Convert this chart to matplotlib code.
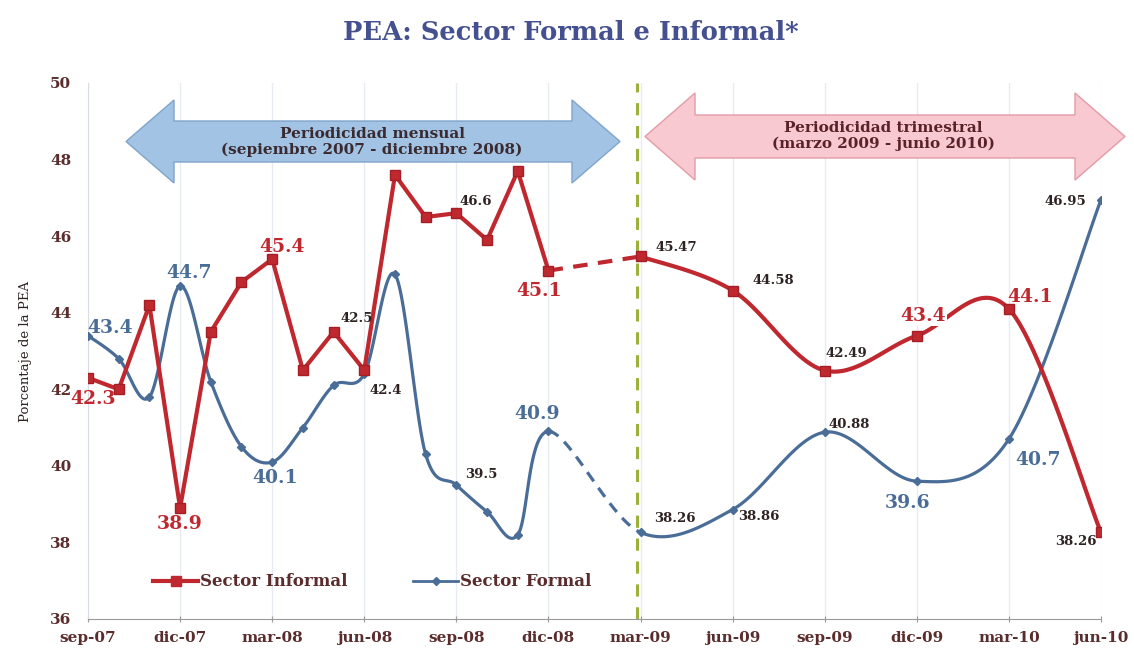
import numpy as np
import matplotlib
matplotlib.use("Agg")
import matplotlib.pyplot as plt
from matplotlib.patches import Polygon
from matplotlib.lines import Line2D

# ---------------- data ----------------
monthly_labels = ['sep-07', 'oct-07', 'nov-07', 'dic-07', 'ene-08', 'feb-08', 'mar-08', 'abr-08',
                  'may-08', 'jun-08', 'jul-08', 'ago-08', 'sep-08', 'oct-08', 'nov-08', 'dic-08']
quarterly_labels = ['mar-09', 'jun-09', 'sep-09', 'dic-09', 'mar-10', 'jun-10']

informal_monthly = [42.3, 42.0, 44.2, 38.9, 43.5, 44.8, 45.4, 42.5,
                    43.5, 42.5, 47.6, 46.5, 46.6, 45.9, 47.7, 45.1]
formal_monthly = [43.4, 42.8, 41.8, 44.7, 42.2, 40.5, 40.1, 41.0,
                  42.1, 42.4, 45.0, 40.3, 39.5, 38.8, 38.2, 40.9]
informal_quarterly = [45.47, 44.58, 42.49, 43.4, 44.1, 38.26]
formal_quarterly = [38.26, 38.86, 40.88, 39.6, 40.7, 46.95]

tick_labels = ['sep-07', 'dic-07', 'mar-08', 'jun-08', 'sep-08', 'dic-08',
               'mar-09', 'jun-09', 'sep-09', 'dic-09', 'mar-10', 'jun-10']

# labelled points: (period label) -> style kind
informal_labelled = {'sep-07': 'c', 'dic-07': 'c', 'mar-08': 'c', 'jun-08': 'd', 'sep-08': 'd',
                     'dic-08': 'c', 'mar-09': 'd', 'jun-09': 'd', 'sep-09': 'd', 'dic-09': 'c',
                     'mar-10': 'c', 'jun-10': 'd'}
formal_labelled = {'sep-07': 'c', 'dic-07': 'c', 'mar-08': 'c', 'jun-08': 'd', 'sep-08': 'd',
                   'dic-08': 'c', 'mar-09': 'd', 'jun-09': 'd', 'sep-09': 'd', 'dic-09': 'c',
                   'mar-10': 'c', 'jun-10': 'd'}

# ---------------- styling ----------------
informal_offsets = {'sep-07': (5, -21), 'dic-07': (0, -16), 'mar-08': (10, 12), 'jun-08': (-8, 52),
                    'sep-08': (19, 12), 'dic-08': (-9, -20), 'mar-09': (36, 9), 'jun-09': (41, 10),
                    'sep-09': (22, 17), 'dic-09': (6, 20), 'mar-10': (21, 12), 'jun-10': (-25, -9)}
formal_offsets = {'sep-07': (22, 8), 'dic-07': (9, 13), 'mar-08': (3, -16), 'jun-08': (21, -17),
                  'sep-08': (25, 10), 'dic-08': (-11, 17), 'mar-09': (34, 14), 'jun-09': (26, -7),
                  'sep-09': (24, 8), 'dic-09': (-9, -22), 'mar-10': (29, -21), 'jun-10': (-36, -2)}

RED = '#c0282f'
BLUE = '#4a6d98'
DARK = '#2e2222'
TICKC = '#5a2c2c'
FONT = 'DejaVu Serif'

MONTHS = {'ene': 1, 'feb': 2, 'mar': 3, 'abr': 4, 'may': 5, 'jun': 6,
          'jul': 7, 'ago': 8, 'sep': 9, 'oct': 10, 'nov': 11, 'dic': 12}


def month_index(lbl):
    m, y = lbl.split('-')
    return (2000 + int(y) - 2007) * 12 + MONTHS[m] - 9


def bezier_segments(xs, ys, n=30):
    pts = np.column_stack([xs, ys]).astype(float)
    segs = []
    t = np.linspace(0, 1, n)[:, None]
    for i in range(len(pts) - 1):
        p0 = pts[i - 1] if i > 0 else pts[i]
        p1, p2 = pts[i], pts[i + 1]
        p3 = pts[i + 2] if i + 2 < len(pts) else pts[i + 1]
        c1 = p1 + (p2 - p0) / 6.0
        c2 = p2 - (p3 - p1) / 6.0
        seg = (1 - t) ** 3 * p1 + 3 * (1 - t) ** 2 * t * c1 + 3 * (1 - t) * t ** 2 * c2 + t ** 3 * p2
        segs.append(seg)
    return segs


W, H = 1134, 653
fig = plt.figure(figsize=(W / 100, H / 100), dpi=100)
fig.patch.set_facecolor('white')
L, R, T, B = 88, 1101, 83, 619
ax = fig.add_axes([L / W, 1 - B / H, (R - L) / W, (B - T) / H])

xm = [month_index(s) for s in monthly_labels]
xq = [month_index(s) for s in quarterly_labels]

# vertical grid
xt = [month_index(s) for s in tick_labels]
for x in xt:
    ax.axvline(x, color='#e6ebf3', lw=1.0, zorder=0)

# dashed separator
ax.axvline(month_index('mar-09') - 0.1, color='#9cb13c', lw=2.2, ls=(0, (4, 3.5)), zorder=1)

# ---- Sector Formal (blue, smoothed) ----
fx = xm + xq
fy = formal_monthly + formal_quarterly
segs = bezier_segments(fx, fy)
for i, s in enumerate(segs):
    dashed = (i == len(xm) - 1)
    ax.plot(s[:, 0], s[:, 1], color=BLUE, lw=2.3, ls=(0, (3.5, 2.5)) if dashed else '-',
            solid_capstyle='round', zorder=3)
ax.plot(fx, fy, ls='none', marker='D', ms=4.2, color=BLUE, zorder=4)

# ---- Sector Informal (red) ----
ax.plot(xm, informal_monthly, color=RED, lw=3.0, zorder=5, solid_joinstyle='round')
ax.plot([xm[-1], xq[0]], [informal_monthly[-1], informal_quarterly[0]], color=RED, lw=3.0,
        ls=(0, (3.5, 2.5)), zorder=5)
for s in bezier_segments(xq, informal_quarterly):
    ax.plot(s[:, 0], s[:, 1], color=RED, lw=3.0, zorder=5, solid_capstyle='round')
ax.plot(xm + xq, informal_monthly + informal_quarterly, ls='none', marker='s', ms=6.5,
        color=RED, mec='#a51e26', zorder=6)

# ---- data labels ----
all_lbl = monthly_labels + quarterly_labels


def put_labels(vals, labelled, offsets, color):
    for lbl, kind in labelled.items():
        i = all_lbl.index(lbl)
        v = vals[i]
        x = (xm + xq)[i]
        col = color if kind == 'c' else DARK
        fs = 13.5 if kind == 'c' else 9.5
        kw = {}
        if lbl == 'dic-09' and color == RED:
            kw['bbox'] = dict(facecolor='white', edgecolor='none', pad=1.0)
        ax.annotate(f'{v:g}', xy=(x, v), xytext=offsets[lbl], textcoords='offset pixels',
                    ha='center', va='center', color=col, fontsize=fs, fontweight='bold',
                    family=FONT, zorder=8, **kw)


put_labels(informal_monthly + informal_quarterly, informal_labelled, informal_offsets, RED)
put_labels(formal_monthly + formal_quarterly, formal_labelled, formal_offsets, BLUE)

# ---- axes ----
ax.set_xlim(0, 33)
ax.set_ylim(36, 50)
ax.set_yticks(np.arange(36, 51, 2))
ax.set_xticks(xt)
ax.set_xticklabels(tick_labels)
for lab in ax.get_xticklabels() + ax.get_yticklabels():
    lab.set_family(FONT)
    lab.set_fontweight('bold')
    lab.set_color(TICKC)
    lab.set_fontsize(11)
ax.tick_params(axis='x', direction='inout', length=5, color='#9a9a9a', pad=6)
ax.tick_params(axis='y', length=0, pad=12)
for sp in ['top', 'right']:
    ax.spines[sp].set_visible(False)
ax.spines['left'].set_color('#d8dde6')
ax.spines['bottom'].set_color('#9a9a9a')
ax.set_facecolor('white')
ax.set_ylabel('Porcentaje de la PEA', family=FONT, fontsize=9.5, color=DARK, labelpad=13)

# legend
handles = [Line2D([], [], color=RED, lw=3, marker='s', ms=6.5),
           Line2D([], [], color=BLUE, lw=2, marker='D', ms=4.2)]
ax.legend(handles, ['Sector Informal', 'Sector Formal'], loc='center left',
          bbox_to_anchor=((153 - L) / (R - L), (B - 582) / (B - T)), ncol=2, frameon=False,
          borderpad=0, borderaxespad=0, handlelength=2.7, handletextpad=0.15, columnspacing=3.9,
          prop={'family': FONT, 'weight': 'bold', 'size': 12}, labelcolor=TICKC)

# title
fig.text(571 / W, 1 - 33 / H, 'PEA: Sector Formal e Informal*', ha='center', va='center',
         family=FONT, fontweight='bold', fontsize=18.5, color='#44508f')


# double arrows
def double_arrow(x0, x1, yc, sh, hh, hl, fc, ec):
    pts_px = [(x0, yc), (x0 + hl, yc - hh), (x0 + hl, yc - sh), (x1 - hl, yc - sh), (x1 - hl, yc - hh),
              (x1, yc), (x1 - hl, yc + hh), (x1 - hl, yc + sh), (x0 + hl, yc + sh), (x0 + hl, yc + hh)]
    pts = [(px / W, 1 - py / H) for px, py in pts_px]
    fig.add_artist(Polygon(pts, closed=True, facecolor=fc, edgecolor=ec, lw=1.0,
                           transform=fig.transFigure, zorder=2))


double_arrow(126, 620, 141.5, 20.5, 41.5, 48, '#a2c3e4', '#7fa4ca')
double_arrow(645, 1125, 136.5, 21.5, 43.5, 50, '#f8c9d0', '#e39ba6')
fig.text(372 / W, 1 - 142 / H, 'Periodicidad mensual\n(sepiembre 2007 - diciembre 2008)',
         ha='center', va='center', family=FONT, fontweight='bold', fontsize=11, color='#3a2a30',
         linespacing=1.1, zorder=3)
fig.text(883 / W, 1 - 136 / H, 'Periodicidad trimestral\n(marzo 2009 - junio 2010)',
         ha='center', va='center', family=FONT, fontweight='bold', fontsize=11, color='#5a2228',
         linespacing=1.1, zorder=3)

fig.savefig('out.png', dpi=100, facecolor='white')
